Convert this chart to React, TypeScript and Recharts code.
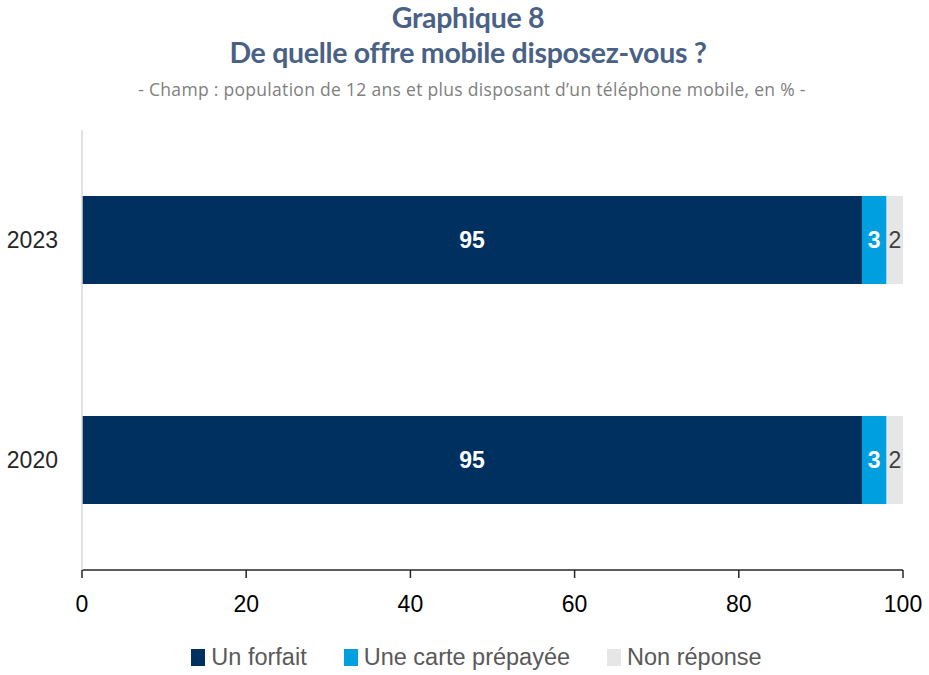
import { BarChart, Bar, XAxis, YAxis, Legend, LabelList } from 'recharts';

const years = ['2023', '2020'];
const forfait = [95, 95];
const prepayee = [3, 3];
const nonReponse = [2, 2];
const xTicks = [0, 20, 40, 60, 80, 100];

const seriesNames = ['Un forfait', 'Une carte prépayée', 'Non réponse'];
const seriesColors = ['#00305F', '#00A0E0', '#E6E6E6'];

const data = years.map((y, i) => ({
  year: y,
  forfait: forfait[i],
  prepayee: prepayee[i],
  nonReponse: nonReponse[i],
}));

const FONT = '"Liberation Sans", Arial, sans-serif';

// legend drawn by hand: square swatch + grey label, wide gaps like the Excel original
function LegendContent() {
  return (
    <div style={{ display: 'flex', justifyContent: 'center', gap: 37, fontFamily: FONT, paddingTop: 29, paddingLeft: 42 }}>
      {seriesNames.map((n, i) => (
        <div key={n} style={{ display: 'flex', alignItems: 'center' }}>
          <span style={{ width: 14, height: 17, background: seriesColors[i], marginRight: 6, display: 'inline-block' }} />
          <span style={{ fontSize: 23.5, color: '#595959' }}>{n}</span>
        </div>
      ))}
    </div>
  );
}

export default function App() {
  return (
    <div style={{ position: 'absolute', left: 0, top: 0, width: 929, height: 675, background: '#fff' }}>
      <div style={{ position: 'absolute', top: 0, left: 0, width: 936, textAlign: 'center', fontFamily: 'Lato, sans-serif', fontWeight: 700, color: '#4A6186', fontSize: 28.5, lineHeight: '35px', letterSpacing: -0.3 }}>
        Graphique 8
        <br />
        De quelle offre mobile disposez-vous ?
      </div>
      <div style={{ position: 'absolute', top: 77, left: 0, width: 944, textAlign: 'center', fontFamily: '"Open Sans", sans-serif', color: '#808080', fontSize: 17.5, letterSpacing: 0.3 }}>
        - Champ : population de 12 ans et plus disposant d’un téléphone mobile, en % -
      </div>
      <div style={{ position: 'absolute', left: 0, top: 0 }}>
        <BarChart
          width={929}
          height={675}
          data={data}
          layout="vertical"
          barCategoryGap="30%"
          margin={{ top: 130, right: 26, left: 8, bottom: 3 }}
        >
          <XAxis
            type="number"
            domain={[0, 100]}
            ticks={xTicks}
            axisLine={{ stroke: '#262626', strokeWidth: 1.5 }}
            tickLine={{ stroke: '#262626', strokeWidth: 1.5 }}
            tickSize={8}
            tickMargin={18}
            height={45}
            tick={{ fill: '#000', fontSize: 23, fontFamily: FONT }}
          />
          <YAxis
            type="category"
            dataKey="year"
            width={74}
            axisLine={{ stroke: '#D9D9D9', strokeWidth: 1.5 }}
            tickLine={false}
            tickMargin={18}
            tick={{ fill: '#262626', fontSize: 23, fontFamily: FONT }}
          />
          <Legend verticalAlign="bottom" height={57} content={<LegendContent />} />
          <Bar dataKey="forfait" name={seriesNames[0]} stackId="a" fill={seriesColors[0]} isAnimationActive={false}>
            <LabelList dataKey="forfait" position="center" fill="#fff" fontWeight={700} fontSize={23} fontFamily={FONT} />
          </Bar>
          <Bar dataKey="prepayee" name={seriesNames[1]} stackId="a" fill={seriesColors[1]} isAnimationActive={false}>
            <LabelList dataKey="prepayee" position="center" fill="#fff" fontWeight={700} fontSize={23} fontFamily={FONT} />
          </Bar>
          <Bar dataKey="nonReponse" name={seriesNames[2]} stackId="a" fill={seriesColors[2]} isAnimationActive={false}>
            <LabelList dataKey="nonReponse" position="center" fill="#404040" fontSize={23} fontFamily={FONT} />
          </Bar>
        </BarChart>
      </div>
    </div>
  );
}
